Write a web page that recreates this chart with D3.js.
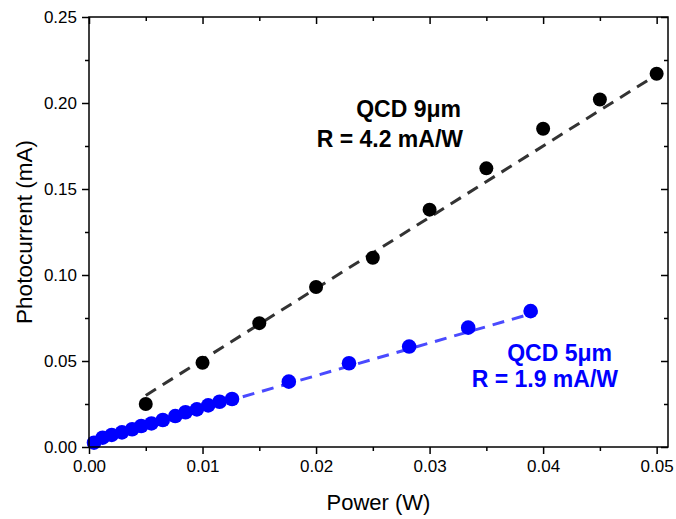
<!DOCTYPE html>
<html>
<head>
<meta charset="utf-8">
<script src="https://cdn.jsdelivr.net/npm/d3@7"></script>
<style>
  body { margin: 0; background: #fff; }
  svg text { font-family: Arial, "Liberation Sans", sans-serif; }
</style>
</head>
<body>
<div id="chart"></div>
<script>
// data
const power9 = [0.005, 0.010, 0.015, 0.020, 0.025, 0.030, 0.035, 0.040, 0.045, 0.050];
const current9 = [0.025, 0.049, 0.072, 0.093, 0.110, 0.138, 0.162, 0.185, 0.202, 0.217];

const power5 = [0.00044, 0.0012, 0.0020, 0.0029, 0.0038, 0.0046, 0.0055, 0.0065, 0.0076, 0.0085,
                0.0095, 0.0105, 0.0115, 0.0126, 0.0176, 0.0229, 0.0282, 0.0334, 0.0389];
const current5 = [0.0025, 0.0054, 0.0070, 0.0085, 0.0103, 0.0122, 0.0137, 0.0157, 0.0180, 0.0202,
                  0.0219, 0.0242, 0.0263, 0.0279, 0.0380, 0.0487, 0.0584, 0.0694, 0.0790];

// linear fits (end points)
const fit9x = [0.005, 0.0505];
const fit9y = [0.030, 0.2185];
const fit5x = [0.0, 0.0395];
const fit5y = [0.0035, 0.0785];

const xTicks = [0, 0.01, 0.02, 0.03, 0.04, 0.05];
const xMinor = [0.005, 0.015, 0.025, 0.035, 0.045];
const yTicks = [0, 0.05, 0.10, 0.15, 0.20, 0.25];
const yMinor = [0.025, 0.075, 0.125, 0.175, 0.225];

const W = 676, H = 519;
const m = {left: 89, right: 8, top: 17, bottom: 72};

const x = d3.scaleLinear().domain([0, 0.051]).range([m.left, W - m.right]);
const y = d3.scaleLinear().domain([0, 0.25]).range([H - m.bottom, m.top]);

const svg = d3.select("#chart").append("svg")
  .attr("width", W).attr("height", H);

// fit lines
const line = d3.line().x(d => x(d[0])).y(d => y(d[1]));
svg.append("path")
  .datum(d3.zip(fit9x, fit9y))
  .attr("d", line)
  .attr("fill", "none").attr("stroke", "#333")
  .attr("stroke-width", 3).attr("stroke-dasharray", "12,8");
svg.append("path")
  .datum(d3.zip(fit5x, fit5y))
  .attr("d", line)
  .attr("fill", "none").attr("stroke", "#4a4aff")
  .attr("stroke-width", 3).attr("stroke-dasharray", "12,8");

// points
svg.append("g").selectAll("circle")
  .data(d3.zip(power9, current9))
  .enter().append("circle")
  .attr("cx", d => x(d[0])).attr("cy", d => y(d[1]))
  .attr("r", 7).attr("fill", "#000");
svg.append("g").selectAll("circle")
  .data(d3.zip(power5, current5))
  .enter().append("circle")
  .attr("cx", d => x(d[0])).attr("cy", d => y(d[1]))
  .attr("r", 7.3).attr("fill", "#0000ff");

// axes
const fmt = d3.format(".2f");
function styleAxis(g) {
  g.select(".domain").remove();
  g.selectAll(".tick line").attr("stroke", "#000").attr("stroke-width", 1.5);
  g.selectAll(".tick text").attr("font-size", 17).attr("fill", "#000")
    .attr("font-family", "Arial, 'Liberation Sans', sans-serif");
}

svg.append("g")
  .attr("transform", `translate(0,${H - m.bottom})`)
  .call(d3.axisBottom(x).tickValues(xTicks).tickFormat(fmt).tickSize(7).tickPadding(6))
  .call(styleAxis);
svg.append("g")
  .attr("transform", `translate(0,${H - m.bottom})`)
  .call(d3.axisBottom(x).tickValues(xMinor).tickFormat("").tickSize(4))
  .call(styleAxis);
svg.append("g")
  .attr("transform", `translate(${m.left},0)`)
  .call(d3.axisLeft(y).tickValues(yTicks).tickFormat(fmt).tickSize(7).tickPadding(5))
  .call(styleAxis);
svg.append("g")
  .attr("transform", `translate(${m.left},0)`)
  .call(d3.axisLeft(y).tickValues(yMinor).tickFormat("").tickSize(4))
  .call(styleAxis);

// mirror ticks pointing inward
svg.append("g")
  .attr("transform", `translate(0,${m.top})`)
  .call(d3.axisBottom(x).tickValues(xTicks).tickFormat("").tickSize(7))
  .call(styleAxis);
svg.append("g")
  .attr("transform", `translate(0,${m.top})`)
  .call(d3.axisBottom(x).tickValues(xMinor).tickFormat("").tickSize(4))
  .call(styleAxis);
svg.append("g")
  .attr("transform", `translate(${W - m.right},0)`)
  .call(d3.axisLeft(y).tickValues(yTicks).tickFormat("").tickSize(7))
  .call(styleAxis);
svg.append("g")
  .attr("transform", `translate(${W - m.right},0)`)
  .call(d3.axisLeft(y).tickValues(yMinor).tickFormat("").tickSize(4))
  .call(styleAxis);

// frame
svg.append("rect")
  .attr("x", m.left).attr("y", m.top)
  .attr("width", W - m.left - m.right).attr("height", H - m.top - m.bottom)
  .attr("fill", "none").attr("stroke", "#000").attr("stroke-width", 1.5);

// axis titles
svg.append("text")
  .attr("x", x(0.0255)).attr("y", 510)
  .attr("text-anchor", "middle").attr("font-size", 22)
  .text("Power (W)");
svg.append("text")
  .attr("transform", `translate(32,${y(0.125)}) rotate(-90)`)
  .attr("text-anchor", "middle").attr("font-size", 22.5)
  .text("Photocurrent (mA)");

// annotations
const note9 = svg.append("text").attr("font-size", 23).attr("font-weight", "bold")
  .attr("text-anchor", "end").attr("fill", "#000");
note9.append("tspan").attr("x", 461).attr("y", 117).text("QCD 9μm");
note9.append("tspan").attr("x", 463).attr("y", 147).text("R = 4.2 mA/W");

const note5 = svg.append("text").attr("font-size", 23).attr("font-weight", "bold")
  .attr("text-anchor", "end").attr("fill", "#0000ff");
note5.append("tspan").attr("x", 612).attr("y", 361).text("QCD 5μm");
note5.append("tspan").attr("x", 618).attr("y", 387).text("R = 1.9 mA/W");
</script>
</body>
</html>
